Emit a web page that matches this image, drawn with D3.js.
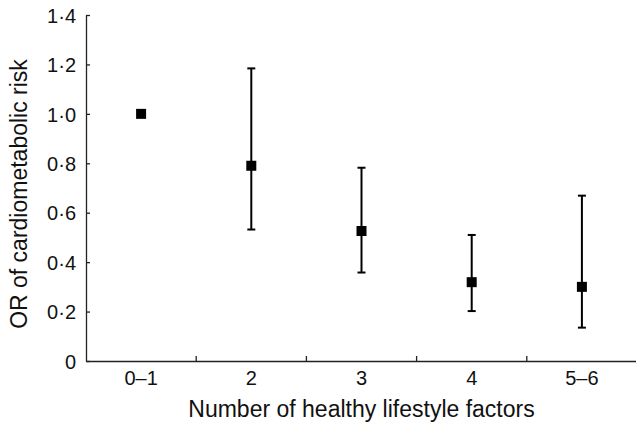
<!DOCTYPE html>
<html>
<head>
<meta charset="utf-8">
<script src="https://cdn.jsdelivr.net/npm/d3@7"></script>
<style>
  body { margin: 0; background: #fff; }
  svg text { font-family: "Liberation Sans", Arial, sans-serif; fill: #111; }
</style>
</head>
<body>
<script>
// values
var categories = ["0–1", "2", "3", "4", "5–6"];
var orValues   = [1.0, 0.79, 0.526, 0.319, 0.30];
var lowerCI    = [null, 0.532, 0.358, 0.202, 0.135];
var upperCI    = [null, 1.184, 0.782, 0.510, 0.669];
var yTicks     = [0, 0.2, 0.4, 0.6, 0.8, 1.0, 1.2, 1.4];

var width = 636, height = 428;
var plotLeft = 86, plotRight = 637, plotTop = 15, plotBottom = 361;

var svg = d3.select("body").append("svg")
    .attr("width", width)
    .attr("height", height);

var data = categories.map(function(c, i) {
    return {cat: c, or: orValues[i], lo: lowerCI[i], hi: upperCI[i]};
});

var x = d3.scaleBand().domain(categories).range([plotLeft, plotRight]);
var y = d3.scaleLinear().domain([0, 1.4]).range([plotBottom, plotTop]);

// y axis
var yAxis = d3.axisLeft(y)
    .tickValues(yTicks)
    .tickSize(-4)
    .tickSizeOuter(0)
    .tickPadding(10)
    .tickFormat(function(d) { return d === 0 ? "0" : d.toFixed(1).replace(".", "·"); });

var gy = svg.append("g")
    .attr("transform", "translate(" + plotLeft + ",0)")
    .call(yAxis);
gy.selectAll("text").style("font-size", "20px").attr("dy", "0.36em");
gy.selectAll("line, path").attr("stroke", "#222").attr("stroke-width", 1.3);

// x axis (labels at band centres, ticks at band boundaries)
var xAxis = d3.axisBottom(x).tickSize(0).tickSizeOuter(0).tickPadding(10);
var gx = svg.append("g")
    .attr("transform", "translate(0," + plotBottom + ")")
    .call(xAxis);
gx.selectAll("text").style("font-size", "20px");
gx.select("path").attr("stroke", "#222").attr("stroke-width", 1.3);

gx.selectAll(".bound")
    .data(categories)
    .enter().append("line")
    .attr("class", "bound")
    .attr("x1", function(d) { return x(d) + x.bandwidth(); })
    .attr("x2", function(d) { return x(d) + x.bandwidth(); })
    .attr("y1", 0)
    .attr("y2", -5)
    .attr("stroke", "#222")
    .attr("stroke-width", 1.3);

// error bars
var eb = data.filter(function(d) { return d.lo !== null; });
var cx = function(d) { return x(d.cat) + x.bandwidth() / 2; };

svg.selectAll(".whisker")
    .data(eb)
    .enter().append("line")
    .attr("class", "whisker")
    .attr("x1", cx).attr("x2", cx)
    .attr("y1", function(d) { return y(d.lo); })
    .attr("y2", function(d) { return y(d.hi); })
    .attr("stroke", "#000")
    .attr("stroke-width", 2);

["lo", "hi"].forEach(function(k) {
    svg.selectAll(".cap-" + k)
        .data(eb)
        .enter().append("line")
        .attr("class", "cap-" + k)
        .attr("x1", function(d) { return cx(d) - 4; })
        .attr("x2", function(d) { return cx(d) + 4; })
        .attr("y1", function(d) { return y(d[k]); })
        .attr("y2", function(d) { return y(d[k]); })
        .attr("stroke", "#000")
        .attr("stroke-width", 2);
});

// point estimates
svg.selectAll(".pt")
    .data(data)
    .enter().append("rect")
    .attr("class", "pt")
    .attr("x", function(d) { return cx(d) - 5; })
    .attr("y", function(d) { return y(d.or) - 5; })
    .attr("width", 10)
    .attr("height", 10)
    .attr("fill", "#000");

// axis titles
svg.append("text")
    .attr("x", (plotLeft + plotRight) / 2)
    .attr("y", 417)
    .attr("text-anchor", "middle")
    .style("font-size", "23px")
    .text("Number of healthy lifestyle factors");

svg.append("text")
    .attr("transform", "translate(27,194) rotate(-90)")
    .attr("text-anchor", "middle")
    .style("font-size", "23px")
    .text("OR of cardiometabolic risk");
</script>
</body>
</html>
